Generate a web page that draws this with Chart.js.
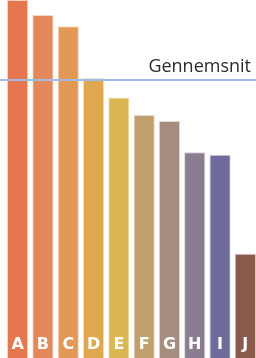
<!DOCTYPE html>
<html>
<head>
<meta charset="utf-8">
<script src="https://cdn.jsdelivr.net/npm/chart.js@4"></script>
<style>
    html, body { margin: 0; padding: 0; background: #fff; overflow: hidden; }
    #wrap { position: relative; width: 258px; height: 358px; }
</style>
</head>
<body>
<div id="wrap"><canvas id="c"></canvas></div>
<script>
var categories = ['A', 'B', 'C', 'D', 'E', 'F', 'G', 'H', 'I', 'J'];
var values = [100, 95.8, 92.7, 78.2, 72.8, 67.9, 66.2, 57.5, 56.8, 29.1];
var average = [77.7];
var averageLabel = 'Gennemsnit';
var colors = ['#e6764f', '#e4875a', '#e19955', '#dfa750', '#dbb753', '#c19f6f', '#a68d80', '#8a7d8f', '#6f6c9b', '#8b5a4c'];

function fade(hex, a) {
    var n = parseInt(hex.slice(1), 16);
    return 'rgba(' + (n >> 16) + ',' + ((n >> 8) & 255) + ',' + (n & 255) + ',' + a + ')';
}

// average line + bar letters
var overlay = {
    id: 'overlay',
    afterDatasetsDraw: function (chart) {
        var ctx = chart.ctx, x = chart.scales.x, y = chart.scales.y;
        var yy = Math.round(y.getPixelForValue(average[0]));
        ctx.save();
        ctx.fillStyle = '#9dbbe6';
        ctx.fillRect(0, yy - 1, 258, 2);

        ctx.fillStyle = '#2b2b2b';
        ctx.font = '18px "Open Sans"';
        ctx.textAlign = 'right';
        ctx.textBaseline = 'alphabetic';
        ctx.fillText(averageLabel, 251, yy - 8);

        ctx.fillStyle = '#fff';
        ctx.font = 'bold 16px "DejaVu Sans"';
        ctx.textAlign = 'center';
        categories.forEach(function (c, i) {
            ctx.fillText(c, x.getPixelForValue(i), 349);
        });
        ctx.restore();
    }
};

new Chart(document.getElementById('c').getContext('2d'), {
    type: 'bar',
    data: {
        labels: categories,
        datasets: [{
            data: values,
            backgroundColor: colors,
            borderColor: colors.map(function (c) { return fade(c, 0.35); }),
            borderWidth: 1,
            borderSkipped: 'bottom',
            categoryPercentage: 1,
            barPercentage: 0.84
        }]
    },
    options: {
        responsive: true,
        maintainAspectRatio: false,
        animation: false,
        layout: { padding: { left: 5, right: 0, top: 0, bottom: 0 } },
        plugins: { legend: { display: false }, tooltip: { enabled: false } },
        scales: {
            x: { display: false },
            y: { display: false, min: 0, max: 100 }
        }
    },
    plugins: [overlay]
});
</script>
</body>
</html>
